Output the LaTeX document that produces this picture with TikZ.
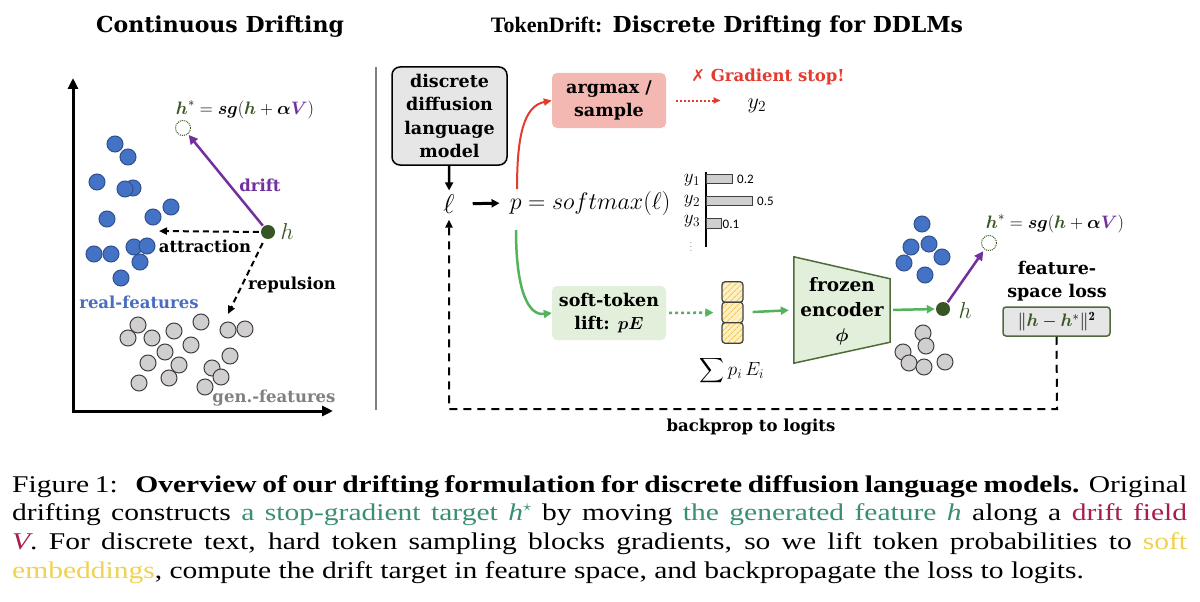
\RequirePackage{fix-cm}
\documentclass[tikz,border=0pt]{standalone}
\usepackage{amsmath}
\usepackage{bm}
\usepackage{fontspec}
\usetikzlibrary{arrows.meta,patterns.meta,calc}
\newfontfamily\dvs{DejaVu Serif}
\newfontfamily\lser{Liberation Serif}
\newfontfamily\capser[FakeStretch=1.23]{Liberation Serif}
\newfontfamily\dsans{DejaVu Sans}
\newfontfamily\carl{Carlito}
\newcommand\fsz[2]{\fontsize{#1}{#2}\selectfont}
\definecolor{crealblue}{HTML}{4472C4}
\definecolor{crealedge}{HTML}{2F528F}
\definecolor{cgenfill}{HTML}{D0CECE}
\definecolor{cgenedge}{HTML}{404040}
\definecolor{chgreen}{HTML}{375623}
\definecolor{cpurple}{HTML}{7030A0}
\definecolor{clabblue}{HTML}{4A6EBF}
\definecolor{cgraytxt}{HTML}{808080}
\definecolor{cred}{HTML}{E33B2E}
\definecolor{cpink}{HTML}{F4B8B3}
\definecolor{cgreen}{HTML}{52B35B}
\definecolor{clgreen}{HTML}{E2EFDA}
\definecolor{cencedge}{HTML}{4F6B3A}
\definecolor{cboxgray}{HTML}{E7E6E6}
\definecolor{cyel}{HTML}{FFF0C2}
\definecolor{cyelline}{HTML}{EFC65A}
\definecolor{ccapgreen}{HTML}{3A8F72}
\definecolor{ccapred}{HTML}{A81E48}
\definecolor{ccapyellow}{HTML}{F0D24E}
\newcommand\hform{$\bm{{\color{chgreen}h}}^{*}=\bm{sg}(\bm{{\color{chgreen}h}}+\bm{\alpha}{\color{cpurple}\bm{V}})$}
\tikzset{
  ttl/.style={inner sep=0pt, font=\dvs\bfseries\fsz{22}{26}},
  lbl/.style={inner sep=0pt, font=\dvs\bfseries\fsz{16.5}{20}},
  boxtxt/.style={inner sep=0pt, align=center, font=\dvs\bfseries\fsz{17.5}{23.5}},
  mathlbl/.style={inner sep=0pt, font=\fsz{18}{22}},
  hlab/.style={inner sep=0pt, text=chgreen, font=\fsz{23}{26}},
  realpt/.style={circle, inner sep=0pt, minimum size=16pt, fill=crealblue, draw=crealedge, line width=1pt},
  genpt/.style={circle, inner sep=0pt, minimum size=16pt, fill=cgenfill, draw=cgenedge, line width=1pt},
  hdot/.style={circle, inner sep=0pt, minimum size=14pt, fill=chgreen},
  tgt/.style={circle, inner sep=0pt, minimum size=15pt, draw=chgreen, densely dotted, line width=1pt},
  axisline/.style={line width=3pt, line join=miter, {Triangle[length=11pt,width=10pt]}-{Triangle[length=11pt,width=10pt]}},
  driftarr/.style={draw=cpurple, line width=2.5pt, -{Triangle[length=9pt,width=9pt]}},
  dasharr/.style={line width=2pt, dash pattern=on 6pt off 4pt, -{Triangle[length=8pt,width=7pt]}},
  blkarr/.style={line width=2.5pt, -{Triangle[length=8pt,width=8pt]}},
  redarr/.style={draw=cred, line width=2pt, -{Triangle[length=8pt,width=7pt]}},
  reddots/.style={draw=cred, line width=2pt, dash pattern=on 2pt off 2pt, -{Triangle[length=7pt,width=6pt]}},
  grnarr/.style={draw=cgreen, line width=2.5pt, -{Triangle[length=8pt,width=8pt]}},
  grndots/.style={draw=cgreen, line width=2.5pt, dash pattern=on 3pt off 3pt, -{Triangle[length=8pt,width=8pt]}},
  sepline/.style={draw=gray, line width=1.5pt},
  ddlmbox/.style={boxtxt, rounded corners=8pt, fill=cboxgray, draw=black, line width=1.5pt, minimum width=115pt, minimum height=98pt},
  ambox/.style={boxtxt, rounded corners=5pt, fill=cpink, minimum width=114pt, minimum height=55pt},
  sbox/.style={boxtxt, rounded corners=5pt, fill=clgreen, minimum width=114pt, minimum height=54pt},
  cell/.style={rectangle, rounded corners=3pt, inner sep=0pt, minimum width=21pt, minimum height=20.5pt,
     preaction={fill=cyel}, preaction={pattern={Lines[angle=45,distance=4pt,line width=1pt]}, pattern color=cyelline},
     draw=cgenedge, line width=1.2pt},
  encshape/.style={fill=clgreen, draw=cencedge, line width=1.5pt, line join=miter},
  lossbox/.style={inner sep=0pt, rounded corners=3pt, fill=cboxgray, draw=cencedge, line width=1.5pt, minimum width=107pt, minimum height=29pt, font=\fsz{18}{22}},
  bparr/.style={line width=2pt, dash pattern=on 8pt off 6pt, -{Triangle[length=8pt,width=7pt]}},
  barbox/.style={fill=cgenfill, draw=cgenedge, line width=1pt},
  barval/.style={inner sep=0pt, anchor=west, font=\carl\fsz{13}{15}},
  ylab/.style={inner sep=0pt, font=\fsz{19}{22}},
}
\begin{document}
\begin{tikzpicture}[x=1pt,y=-1pt]
\fill[white] (0,0) rectangle (1200,602);
\useasboundingbox (0,0) rectangle (1200,602);

% ================= left panel =================
\node[ttl] (t1) at (220,27) {Continuous Drifting};
\coordinate (ytop) at (73,78);
\coordinate (orig) at (73,411);
\coordinate (xend) at (333,411);
\draw[axisline] (ytop) -- (orig) -- (xend);

\foreach \p [count=\i] in {(115,144),(128,157),(97,182),(133,188),(125,189),(171,207),(153,217),(107,219),(94,254),(111,254),(134,247),(147,246),(140,262),(121,278)}
  \node[realpt] (ra\i) at \p {};
\foreach \p [count=\i] in {(138,325),(128,338),(152,338),(174,331),(201,322),(228,330),(245,329),(191,345),(165,352),(148,363),(179,365),(230,356),(212,368),(221,377),(139,383),(169,378),(205,387)}
  \node[genpt] (ga\i) at \p {};

\node[tgt] (tg1) at (183,128) {};
\node[hdot] (h1) at (268,232) {};
\node[hlab] (h1l) at (287,232) {$h$};
\draw[driftarr, shorten <=1pt, shorten >=1pt] (h1) -- (tg1);
\node[lbl, text=cpurple] (dl) at (260,185) {drift};
\coordinate (attE) at (159,231);
\draw[dasharr, shorten <=2pt] (h1.west) -- (attE);
\node[lbl] (attl) at (205,246) {attraction};
\coordinate (repE) at (228,314);
\draw[dasharr, shorten <=5pt] (h1) -- (repE);
\node[lbl] (repl) at (292,285) {repulsion};
\node[lbl, text=clabblue] (rl) at (139,302) {real-features};
\node[lbl, text=cgraytxt] (gl) at (274,398) {gen.-features};
\node[mathlbl] (f1) at (245,110) {\hform};

\draw[sepline] (376,67) -- (376,410);

% ================= right panel =================
\node[ttl] (t2) at (727,27) {{\lser TokenDrift:} Discrete Drifting for DDLMs};

\node[ddlmbox] (lm) at (449.5,116) {discrete\\diffusion\\language\\model};
\node[inner sep=0pt, font=\fsz{27}{30}] (ell) at (449,204) {$\ell$};
\node[inner sep=0pt, font=\fsz{24}{28}] (pn) at (590,203) {$p=softmax(\ell)$};
\draw[blkarr, shorten >=4pt] (lm) -- (ell);
\draw[blkarr, line width=3pt, shorten <=18pt, shorten >=10pt] (ell.east) -- (pn.west);

% top branch
\node[ambox] (am) at (609,100.5) {argmax /\\sample};
\coordinate (redS) at (517,189);
\draw[redarr] (redS) .. controls (517,135) and (524,106) .. (am.west);
\node[inner sep=0pt, font=\fsz{22}{26}] (y2o) at (757,106) {$y_2$};
\draw[reddots, shorten <=10pt, shorten >=27pt] (am.east) -- (am.east -| y2o.west);
\node[inner sep=0pt, text=cred, font=\dvs\bfseries\fsz{16.5}{20}] (gs) at (768,77) {{\dsans\bfseries ✗} Gradient stop!};

% bar chart
\draw[line width=1.5pt] (706,172) -- (706,247);
\draw[barbox] (706,174) rectangle (732,183);
\draw[barbox] (706,196) rectangle (752,205);
\draw[barbox] (706,218.5) rectangle (721,228);
\node[ylab] (yl1) at (692,180) {$y_1$};
\node[ylab] (yl2) at (692,201) {$y_2$};
\node[ylab] (yl3) at (692,221) {$y_3$};
\node[inner sep=0pt, font=\fsz{8}{10}] (yld) at (691,244) {$\vdots$};
\node[barval] (v1) at (737,179) {0.2};
\node[barval] (v2) at (757,201) {0.5};
\node[barval] (v3) at (722.5,224) {0.1};

% bottom branch
\node[sbox] (sb) at (609,313) {soft-token\\lift: $\bm{pE}$};
\coordinate (greS) at (516,230);
\draw[grnarr] (greS) .. controls (516,290) and (528,316) .. (sb.west);
\node[cell] (c1) at (732.5,292) {};
\node[cell] (c2) at (732.5,312.5) {};
\node[cell] (c3) at (732.5,333) {};
\draw[grndots, shorten <=3pt, shorten >=8pt] (sb.east) -- (c2.west);
\node[inner sep=0pt, font=\fsz{19}{24}] (sum) at (732,371) {$\displaystyle\sum p_i\,E_i$};

\node[inner sep=0pt, minimum width=96pt, minimum height=106pt] (enc) at (842,310) {};
\draw[encshape] (enc.north west) -- ($(enc.north east)+(0,22)$) -- ($(enc.south east)+(0,-21)$) -- (enc.south west) -- cycle;
\node[boxtxt, font=\dvs\bfseries\fsz{18.5}{25}] (enct) at (842,311) {frozen\\encoder\\$\bm{\phi}$};
\draw[grnarr, shorten <=9pt, shorten >=5pt] (c2.east) -- (enc.west);

\foreach \p [count=\i] in {(922,224),(911,247),(929,244),(942,257),(904,263),(925,275)}
  \node[realpt] (rb\i) at \p {};
\foreach \p [count=\i] in {(923,333),(926,346),(903,352),(909,363),(924,367),(945,362)}
  \node[genpt] (gb\i) at \p {};

\node[hdot] (h2) at (943,309) {};
\node[hlab] (h2l) at (965,311) {$h$};
\draw[grnarr, shorten <=3pt, shorten >=1pt] (enc.east) -- (h2.west);
\node[tgt] (tg2) at (989,243) {};
\draw[driftarr, shorten <=1pt, shorten >=2pt] (h2) -- (tg2);
\node[mathlbl] (f2) at (1055,224) {\hform};

\node[boxtxt] (fsl) at (1057,281) {feature-\\space loss};
\node[lossbox] (loss) at (1056.5,321.5) {$\lVert{\color{chgreen}\bm{h}}-{\color{chgreen}\bm{h}}^{*}\rVert^{\mathbf{2}}$};

\coordinate (bpR) at (1057,409);
\coordinate (bpL) at (449,409);
\draw[bparr, shorten >=6pt] (loss.south) -- (bpR) -- (bpL) -- (ell.south);
\node[lbl] (bpl) at (751,427) {backprop to logits};

% ================= caption =================
\node[inner sep=0pt, anchor=base west] (cap) at (12,492) {\parbox[t]{1175pt}{\capser\fsz{24}{28.7}%
Figure 1:\enspace\ \textbf{Overview of our drifting formulation for discrete diffusion language models.} Original\linebreak
drifting constructs {\color{ccapgreen}a stop-gradient target {\itshape h}$^\star$} by moving {\color{ccapgreen}the generated feature {\itshape h}} along a {\color{ccapred}drift field\linebreak {\itshape V}}. For discrete text, hard token sampling blocks gradients, so we lift token probabilities to {\color{ccapyellow}soft\linebreak embeddings}, compute the drift target in feature space, and backpropagate the loss to logits.}};
\end{tikzpicture}
\end{document}
